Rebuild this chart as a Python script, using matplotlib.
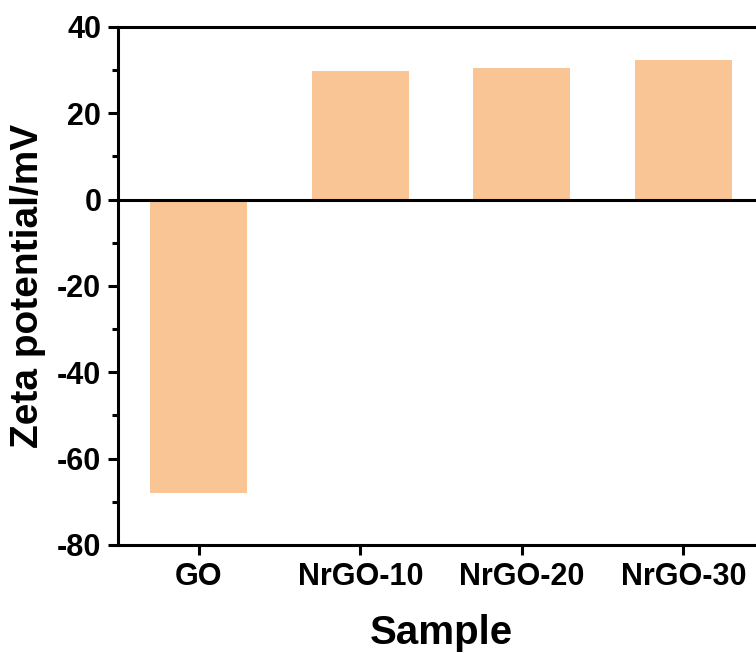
import matplotlib
matplotlib.use('Agg')
import matplotlib.pyplot as plt
from matplotlib.ticker import MultipleLocator

# data
samples = ['GO', 'NrGO-10', 'NrGO-20', 'NrGO-30']
zeta = [-68.0, 29.9, 30.4, 32.3]

plt.rcParams['font.family'] = ['Liberation Sans', 'DejaVu Sans']
plt.rcParams['font.weight'] = 'bold'
plt.rcParams['axes.unicode_minus'] = False

fig = plt.figure(figsize=(7.56, 6.53), dpi=100)
# axes runs past right edge, as in the cropped original
ax = fig.add_axes([118 / 756, 1 - 545 / 653, (764 - 118) / 756, (545 - 27) / 653])

x = list(range(len(samples)))
ax.bar(x, zeta, width=0.6, color='#F9C594', zorder=1)
ax.axhline(0, color='black', linewidth=2.2, zorder=2)

ax.set_xlim(-0.5, 3.5)
ax.set_ylim(-80, 40)
ax.set_xticks(x)
ax.set_xticklabels(samples)
ax.yaxis.set_major_locator(MultipleLocator(20))
ax.yaxis.set_minor_locator(MultipleLocator(10))

for s in ax.spines.values():
    s.set_linewidth(2.2)

ax.tick_params(axis='both', which='major', direction='out', length=7, width=2.2,
               labelsize=22, pad=5)
ax.tick_params(axis='y', which='minor', direction='out', length=4, width=2.2)

ax.set_xlabel('Sample', fontsize=29, fontweight='bold', labelpad=16)
ax.set_ylabel('Zeta potential/mV', fontsize=28, fontweight='bold', labelpad=8)

fig.savefig('out.png', dpi=100)
